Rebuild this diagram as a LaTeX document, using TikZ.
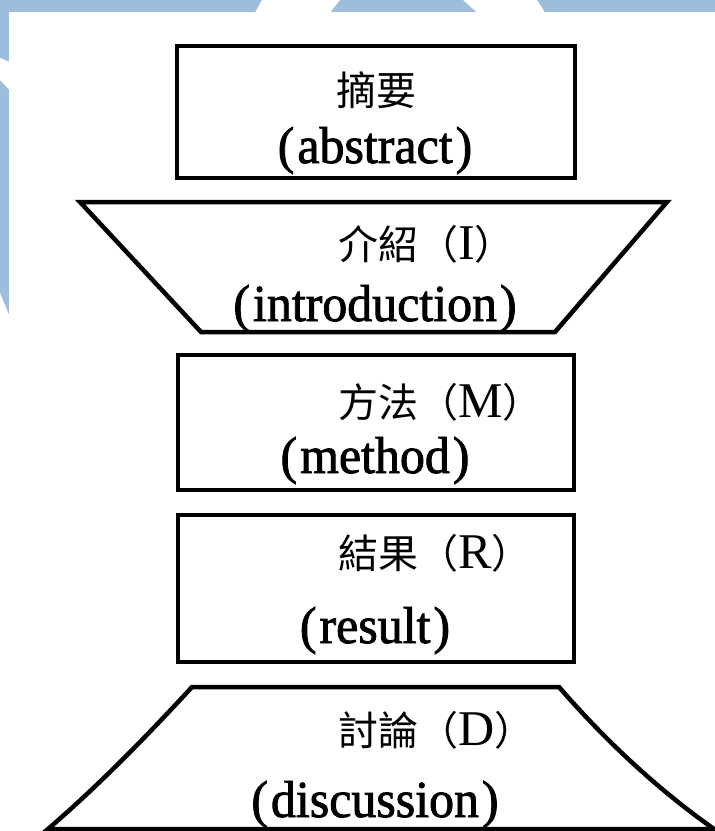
\documentclass[tikz,border=0pt]{standalone}
\usepackage{fontspec}
\setmainfont{Liberation Serif}
\newfontfamily\cjk{Noto Sans CJK TC}
\newfontfamily\engfont[FakeBold=1.6,FakeStretch=0.96]{Liberation Serif}
\definecolor{wmblue}{RGB}{158,188,219}
\newcommand{\latl}[1]{{\rmfamily\fontsize{50}{50}\selectfont #1}}
\newcommand{\enp}[1]{(\kern3pt#1\kern3pt)}
\begin{document}
\begin{tikzpicture}[x=1pt,y=-1pt,
  frame/.style={draw=black,line width=4.5pt,line join=miter},
  zh/.style={inner sep=0pt,anchor=base west,font=\cjk\fontsize{40}{40}\selectfont},
  en/.style={inner sep=0pt,anchor=base,font=\engfont\fontsize{52}{52}\selectfont}]
\useasboundingbox (0,0) rectangle (715,831);
% background watermark
\fill[wmblue] (0,0) rectangle (715,831);
\fill[white] (9,12) rectangle (715,831);
\fill[white] (262,0) -- (340,0) -- (330,12.5) -- (255,12.5) -- cycle;
\fill[white] (463,0) -- (537,0) -- (545,12.5) -- (477,12.5) -- cycle;
\fill[white] (0,58) -- (9.5,62) -- (9.5,90) -- (0,80) -- cycle;
\fill[white] (0,293) -- (9.5,316) -- (9.5,831) -- (0,831) -- cycle;
% shapes
\draw[frame] (177,46) rectangle (575,178);
\draw[frame] (80,202) -- (667,202) -- (555,332) -- (201,332) -- cycle;
\draw[frame] (178,355) rectangle (574,490);
\draw[frame] (178,515) rectangle (574,662);
\draw[frame] (192,687) -- (559,687)
  .. controls (605,740) and (656,788) .. (714,829)
  -- (48,829) .. controls (98,786) and (146,737) .. cycle;
% texts
\node[zh,anchor=base] (abszh) at (376,105) {摘要};
\node[en] (absen) at (375,163) {\enp{abstract}};
\node[zh] (intzh) at (338,259) {介紹（\latl{I}）};
\node[en] (inten) at (375,321) {\enp{introduction}};
\node[zh] (metzh) at (338,417) {方法（\latl{M}）};
\node[en] (meten) at (375,473) {\enp{method}};
\node[zh] (reszh) at (338,568) {結果（\latl{R}）};
\node[en] (resen) at (375,643) {\enp{result}};
\node[zh] (diszh) at (338,745) {討論（\latl{D}）};
\node[en] (disen) at (375,817) {\enp{discussion}};
\end{tikzpicture}
\end{document}
